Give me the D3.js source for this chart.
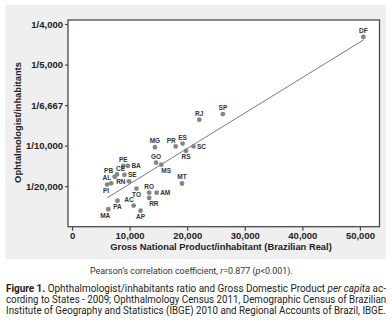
<!DOCTYPE html>
<html><head><meta charset="utf-8">
<script src="https://cdn.jsdelivr.net/npm/d3@7"></script>
<style>
html,body{margin:0;padding:0;background:#fff;}
svg{display:block;}
</style></head>
<body>
<svg id="chart" width="392" height="323"></svg>
<script>
// ---- data ----
const states = ["DF","SP","RJ","SC","RS","ES","PR","MG","GO","MS","MT","AM","RO","RR","TO","AP","AC","PA","MA","PI","AL","PB","CE","PE","BA","SE","RN"];
// GDP per inhabitant (Brazilian Real)
const gdpPerCapita = [50600,26200,22100,21100,19800,19200,18000,14400,14600,15500,19100,14700,13400,13400,11200,11900,10700,7900,6300,6100,6800,7400,7800,8900,9700,9100,9900];
// ophthalmologists per 100,000 inhabitants (5 = 1/20,000)
const ophthPer100k = [23.4,13.9,13.2,9.9,9.35,10.25,9.9,9.8,7.9,7.65,5.33,4.2,4.2,3.55,4.7,1.97,2.6,3.2,2.15,5.2,5.35,6.15,6.45,7.5,7.5,6.4,5.6];
// label placement relative to the point
const labelSide = ["n","n","n","e","s","n","nw","n","n","se","n","e","n","se","s","s","nw","s","sw","sw","nw","wnw","ne","n","e","e","w"];
const yTickValues = [5,10,15,20,25];
const yTickLabels = ["1/20,000","1/10,000","1/6,667","1/5,000","1/4,000"];
const xTickValues = [0,10000,20000,30000,40000,50000];
const xTitle = "Gross National Product/inhabitant (Brazilian Real)";
const yTitle = "Ophtalmologist/inhabitants";
const pearsonParts = [["Pearson’s correlation coefficient, ","n"],["r","i"],["=0.877 (","n"],["p","i"],["<0.001).","n"]];
const captionLines = [
  [["Figure 1.","b"],[" Ophthalmologist/inhabitants ratio and Gross Domestic Product ","n"],["per capita","i"],[" ac-","n"]],
  [["cording to States - 2009; Ophthalmology Census 2011, Demographic Census of Brazilian","n"]],
  [["Institute of Geography and Statistics (IBGE) 2010 and Regional Accounts of Brazil, IBGE.","n"]]
];

const data = states.map((s,i)=>({s, x:gdpPerCapita[i], y:ophthPer100k[i], pos:labelSide[i]}));

const svg = d3.select("#chart");
const chartFont = "'Liberation Sans', Arial, sans-serif";

// panel
svg.append("rect").attr("x",5).attr("y",5).attr("width",381).attr("height",254).attr("fill","#efefef");

const L=68, R=379.5, T=20, B=226.7;
const x = d3.scaleLinear().domain([-700,53400]).range([L,R]);
const y = d3.scaleLinear().domain([0,25.5]).range([B,T]);

svg.append("rect").attr("x",L).attr("y",T).attr("width",R-L).attr("height",B-T)
  .attr("fill","#fff").attr("stroke","#4a4a4a").attr("stroke-width",1.3);

// axes
const xAxis = svg.append("g").attr("transform",`translate(0,${B})`)
  .call(d3.axisBottom(x).tickValues(xTickValues).tickSize(4).tickPadding(2).tickFormat(d3.format(",")));
const yAxis = svg.append("g").attr("transform",`translate(${L},0)`)
  .call(d3.axisLeft(y).tickValues(yTickValues).tickSize(3).tickPadding(2).tickFormat((d,i)=>yTickLabels[i]));
[xAxis,yAxis].forEach(g=>{
  g.select(".domain").remove();
  g.selectAll(".tick line").attr("stroke","#4a4a4a").attr("stroke-width",1.2);
  g.selectAll("text").attr("font-family",chartFont).attr("font-weight","bold").attr("fill","#222");
});
xAxis.selectAll("text").attr("font-size",9.5);
yAxis.selectAll("text").attr("font-size",9.5).attr("dy","0.35em");

// regression line (least squares)
const mx = d3.mean(data,d=>d.x), my = d3.mean(data,d=>d.y);
const slope = d3.sum(data,d=>(d.x-mx)*(d.y-my))/d3.sum(data,d=>(d.x-mx)*(d.x-mx));
const icpt = my - slope*mx;
const [xmin,xmax] = d3.extent(data,d=>d.x);
svg.append("line")
  .attr("x1",x(xmin)).attr("y1",y(icpt+slope*xmin))
  .attr("x2",x(xmax)).attr("y2",y(icpt+slope*xmax))
  .attr("stroke","#7a7a7a").attr("stroke-width",1);

// points
svg.append("g").selectAll("circle").data(data).join("circle")
  .attr("cx",d=>x(d.x)).attr("cy",d=>y(d.y)).attr("r",2.4).attr("fill","#858585");

const off = {
  n:["middle",0,-4], s:["middle",0,8.5], e:["start",3.5,2.4], w:["end",-3.5,2.4],
  nw:["end",0,-3.4], ne:["start",-1,-3.6], se:["start",0,8.3], sw:["end",2,8.3],
  wnw:["end",-1.5,-3.4]
};
svg.append("g").selectAll("text").data(data).join("text")
  .attr("x",d=>x(d.x)+off[d.pos][1]).attr("y",d=>y(d.y)+off[d.pos][2])
  .attr("text-anchor",d=>off[d.pos][0])
  .attr("font-family",chartFont).attr("font-size",6.5).attr("font-weight","bold").attr("fill","#333")
  .text(d=>d.s);

// axis titles
const xt = svg.append("text").attr("font-family",chartFont).attr("font-weight","bold")
  .attr("font-size",9.5).attr("fill","#222").attr("text-anchor","middle").text(xTitle);
{
  const k = 222 / xt.node().getComputedTextLength();
  xt.attr("transform",`translate(221,250) scale(${k},1)`);
}
const yt = svg.append("text").attr("font-family",chartFont).attr("font-weight","bold")
  .attr("font-size",9.5).attr("fill","#222").attr("text-anchor","middle").text(yTitle);
{
  const k = 121 / yt.node().getComputedTextLength();
  yt.attr("transform",`translate(21,122.5) rotate(-90) scale(${k},1)`);
}

// caption
const capFont = "Roboto, 'Noto Sans', sans-serif";
function styledLine(parts, size){
  const t = svg.append("text").attr("font-family",capFont).attr("font-size",size).attr("fill","#222");
  parts.forEach(([txt,st])=>{
    t.append("tspan").text(txt)
      .attr("font-weight",st==="b"?"bold":"normal")
      .attr("font-style",st==="i"?"italic":"normal");
  });
  return t;
}
const pl = styledLine(pearsonParts, 9.5).attr("fill","#333");
{
  const w = pl.node().getComputedTextLength();
  pl.attr("transform",`translate(90,274) scale(${203/w},1)`);
}
captionLines.forEach((parts,i)=>{
  const t = styledLine(parts, 10.2);
  const w = t.node().getComputedTextLength();
  t.attr("transform",`translate(6,${292+i*11}) scale(${380/w},1)`);
});
</script>
</body></html>
